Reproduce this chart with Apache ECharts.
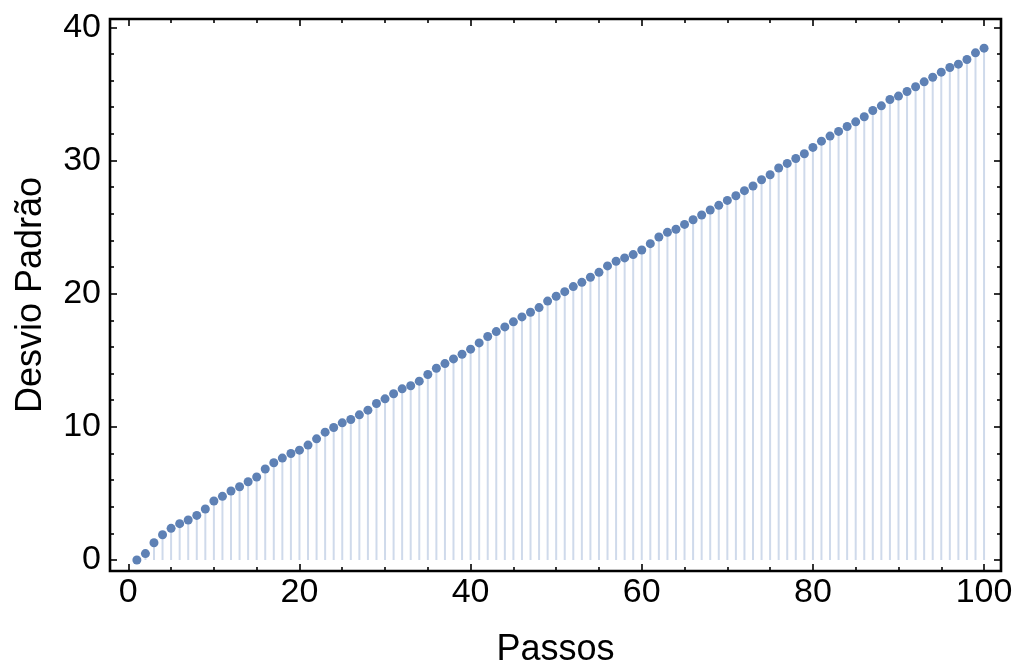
<!DOCTYPE html>
<html>
<head>
<meta charset="utf-8">
<script src="https://cdn.jsdelivr.net/npm/echarts@6/dist/echarts.min.js"></script>
<style>
  html, body { margin: 0; padding: 0; background: #ffffff; }
  #chart { width: 1021px; height: 669px; }
</style>
</head>
<body>
<div id="chart"></div>
<script>
// Number of steps (1..100)
const steps = [
  1, 2, 3, 4, 5, 6, 7, 8, 9, 10,
  11, 12, 13, 14, 15, 16, 17, 18, 19, 20,
  21, 22, 23, 24, 25, 26, 27, 28, 29, 30,
  31, 32, 33, 34, 35, 36, 37, 38, 39, 40,
  41, 42, 43, 44, 45, 46, 47, 48, 49, 50,
  51, 52, 53, 54, 55, 56, 57, 58, 59, 60,
  61, 62, 63, 64, 65, 66, 67, 68, 69, 70,
  71, 72, 73, 74, 75, 76, 77, 78, 79, 80,
  81, 82, 83, 84, 85, 86, 87, 88, 89, 90,
  91, 92, 93, 94, 95, 96, 97, 98, 99, 100
];

// Standard deviation after each step
const desvio = [
  0.00, 0.48, 1.30, 1.90, 2.38, 2.73, 3.00, 3.35, 3.83, 4.43,
  4.78, 5.18, 5.50, 5.88, 6.23, 6.83, 7.30, 7.65, 8.00, 8.25,
  8.63, 9.10, 9.60, 9.95, 10.30, 10.55, 10.90, 11.25, 11.75, 12.10,
  12.48, 12.85, 13.08, 13.43, 13.93, 14.40, 14.75, 15.10, 15.45, 15.83,
  16.30, 16.78, 17.15, 17.50, 17.88, 18.25, 18.60, 18.95, 19.44, 19.80,
  20.15, 20.53, 20.85, 21.23, 21.60, 22.08, 22.43, 22.68, 22.93, 23.28,
  23.75, 24.25, 24.60, 24.83, 25.20, 25.55, 25.90, 26.28, 26.63, 27.00,
  27.35, 27.73, 28.08, 28.55, 28.93, 29.43, 29.78, 30.15, 30.50, 30.98,
  31.45, 31.83, 32.18, 32.55, 32.90, 33.28, 33.75, 34.10, 34.58, 34.83,
  35.18, 35.53, 35.90, 36.25, 36.63, 36.98, 37.23, 37.58, 38.08, 38.43
];

// Tick positions
const xMajorTicks = [0, 20, 40, 60, 80, 100];
const xMinorTicks = [5, 10, 15, 25, 30, 35, 45, 50, 55, 65, 70, 75, 85, 90, 95];
const yMajorTicks = [0, 10, 20, 30, 40];
const yMinorTicks = [2, 4, 6, 8, 12, 14, 16, 18, 22, 24, 26, 28, 32, 34, 36, 38];

const xTitle = 'Passos';
const yTitle = 'Desvio Padrão';

const FONT = '"Liberation Sans", Arial, Helvetica, sans-serif';
const X_RANGE = [-2.14, 101.98];
const Y_RANGE = [-0.825, 40.62];

const points = steps.map((s, i) => [s, desvio[i]]);

// One axis per tick set, so major and minor ticks can have different lengths
function tickAxis(dim, position, values, len, withLabels) {
  const range = dim === 'x' ? X_RANGE : Y_RANGE;
  const ax = {
    type: 'value',
    position: position,
    min: range[0],
    max: range[1],
    axisLine: { show: false, onZero: false },
    splitLine: { show: false },
    axisTick: {
      show: true,
      inside: true,
      length: len,
      customValues: values,
      lineStyle: { color: '#000000', width: 1.6 }
    },
    axisLabel: { show: false }
  };
  if (withLabels) {
    ax.axisLabel = {
      show: true,
      customValues: values,
      color: '#000000',
      fontFamily: FONT,
      fontSize: 34,
      margin: dim === 'x' ? 5 : 9
    };
  }
  return ax;
}

const xAxes = [
  tickAxis('x', 'bottom', xMajorTicks, 7, true),
  tickAxis('x', 'bottom', xMinorTicks, 4, false),
  tickAxis('x', 'top', xMajorTicks, 7, false),
  tickAxis('x', 'top', xMinorTicks, 4, false)
];
xAxes[0].name = xTitle;
xAxes[0].nameLocation = 'middle';
xAxes[0].nameGap = 61;
xAxes[0].nameTextStyle = { color: '#000000', fontFamily: FONT, fontSize: 36 };

const yAxes = [
  tickAxis('y', 'left', yMajorTicks, 7, true),
  tickAxis('y', 'left', yMinorTicks, 4, false),
  tickAxis('y', 'right', yMajorTicks, 7, false),
  tickAxis('y', 'right', yMinorTicks, 4, false)
];
yAxes[0].name = yTitle;
yAxes[0].nameLocation = 'middle';
yAxes[0].nameGap = 61;
yAxes[0].nameTextStyle = { color: '#000000', fontFamily: FONT, fontSize: 36 };

const chart = echarts.init(document.getElementById('chart'), null, { renderer: 'canvas' });

chart.setOption({
  animation: false,
  backgroundColor: '#ffffff',
  grid: {
    left: 110,
    right: 20,
    top: 19,
    bottom: 98,
    containLabel: false,
    outerBoundsMode: 'none',
    show: true,
    borderColor: '#000000',
    borderWidth: 2.6,
    backgroundColor: 'transparent'
  },
  xAxis: xAxes,
  yAxis: yAxes,
  series: [
    {
      // vertical filling from the axis to each point
      type: 'custom',
      xAxisIndex: 0,
      yAxisIndex: 0,
      silent: true,
      z: 1,
      data: points,
      renderItem: function (params, api) {
        const x = api.value(0);
        const p0 = api.coord([x, 0]);
        const p1 = api.coord([x, api.value(1)]);
        return {
          type: 'line',
          shape: { x1: p0[0], y1: p0[1], x2: p1[0], y2: p1[1] },
          style: { stroke: '#cfdaeb', lineWidth: 2 }
        };
      }
    },
    {
      type: 'scatter',
      xAxisIndex: 0,
      yAxisIndex: 0,
      z: 3,
      symbol: 'circle',
      symbolSize: 9,
      itemStyle: { color: '#5e81b5', opacity: 1 },
      data: points
    }
  ]
});
</script>
</body>
</html>
